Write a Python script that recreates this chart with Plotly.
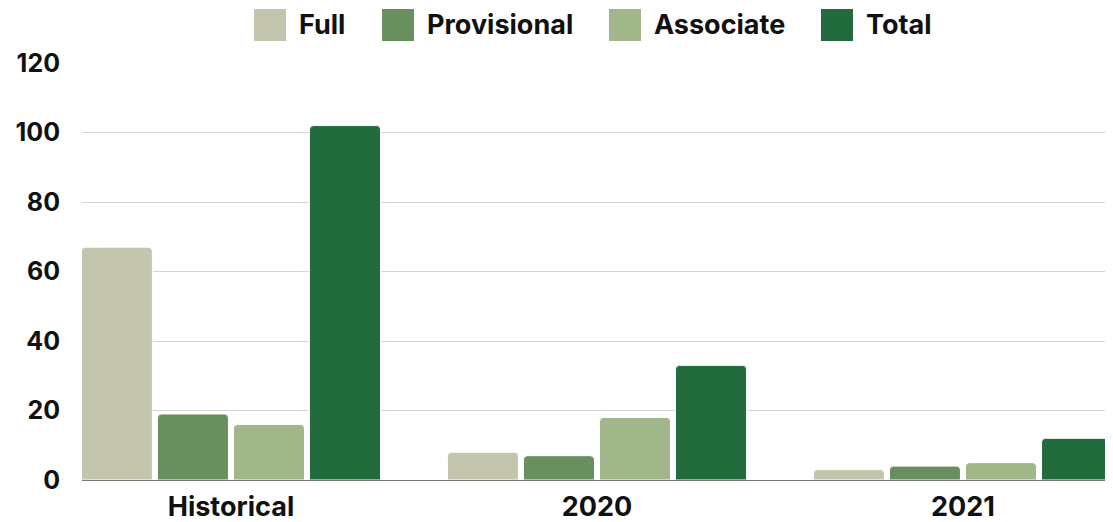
import plotly.graph_objects as go

categories = ["Historical", "2020", "2021"]
full = [67, 8, 3]
provisional = [19, 7, 4]
associate = [16, 18, 5]
total = [102, 33, 12]
y_ticks = [0, 20, 40, 60, 80, 100, 120]

series = [
    ("Full", full, "#C4C5AD"),
    ("Provisional", provisional, "#6A8F5E"),
    ("Associate", associate, "#A1B78A"),
    ("Total", total, "#216B3C"),
]

FONT = "Inter"
OFF = 8  # page body margin
W, H = 1113 - 2 * OFF, 522 - OFF
# plot area in page pixels
PL, PR, PT, PB = 82, 1105, 63, 480
L, T = PL - OFF, PT - OFF
R, B = W - (PR - OFF), H - (PB - OFF)
PW, PH = PR - PL, PB - PT

def px_x(p):
    return (p - PL) / PW

def px_y(p):
    return (PB - p) / PH

fig = go.Figure()
xpos = list(range(len(categories)))
for name, vals, color in series:
    fig.add_trace(go.Bar(
        x=xpos, y=vals, name=name, showlegend=False,
        marker=dict(color=color, line=dict(color="white", width=1)),
    ))

# custom legend (large square swatches)
legend_sq_left = [254, 382, 609, 821]
shapes, annotations = [], []
for (name, _, color), sx in zip(series, legend_sq_left):
    shapes.append(dict(
        type="rect", xref="paper", yref="paper",
        x0=px_x(sx), x1=px_x(sx + 32), y0=px_y(41), y1=px_y(9),
        fillcolor=color, line=dict(width=0),
    ))
    annotations.append(dict(
        xref="paper", yref="paper", x=px_x(sx + 43), y=px_y(25),
        xanchor="left", yanchor="middle", showarrow=False, text=name,
        font=dict(family=FONT, size=27, color="#111111", weight="bold"),
    ))

fig.update_layout(
    width=W, height=H,
    margin=dict(l=L, r=R, t=T, b=B, pad=0),
    paper_bgcolor="white", plot_bgcolor="white",
    barmode="group", bargap=0.169, bargroupgap=0.066,
    barcornerradius=4,
    font=dict(family=FONT, size=25, color="#111111"),
    showlegend=False,
    shapes=shapes, annotations=annotations,
)
fig.update_xaxes(
    tickmode="array", tickvals=xpos, ticktext=categories,
    range=[-0.407, 2.388], automargin=False,
    showgrid=False, showline=True, linecolor="#777777", linewidth=1,
    ticks="", ticklabelstandoff=3,
    tickfont=dict(family=FONT, size=27, weight="bold", color="#111111"),
    zeroline=False,
)
fig.update_yaxes(
    range=[0, 120], tickvals=y_ticks, automargin=False,
    showgrid=True, gridcolor="#D4D4D4", gridwidth=1,
    zeroline=False, ticks="", ticklabelstandoff=21,
    tickfont=dict(family=FONT, size=25, weight="bold", color="#111111"),
)

fig.write_html("out.html")
